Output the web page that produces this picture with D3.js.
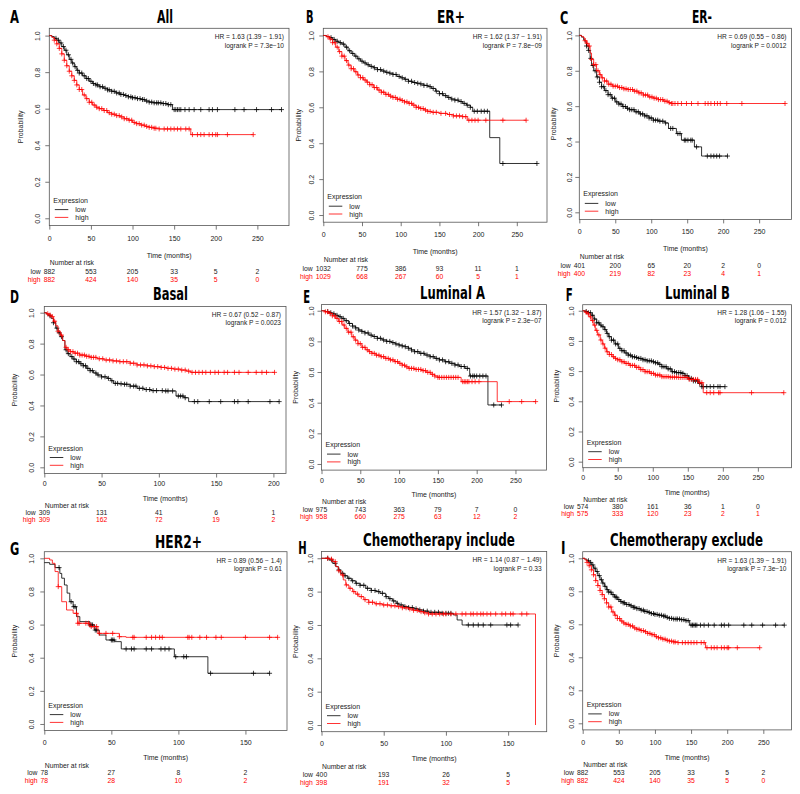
<!DOCTYPE html>
<html><head><meta charset="utf-8">
<script src="https://cdn.jsdelivr.net/npm/d3@7"></script>
<style>body{margin:0;background:#fff}text{font-family:"Liberation Sans",Arial,sans-serif}</style>
</head><body><svg id="c" width="800" height="794"></svg>
<script>
// ---------- DATA ----------
const panelIds = ["A","B","C","D","E","F","G","H","I"];
const panelTitles = ["All","ER+","ER-","Basal","Luminal A","Luminal B","HER2+","Chemotherapy include","Chemotherapy exclude"];
const hrLabels = ["HR = 1.63 (1.39 \u2212 1.91)","HR = 1.62 (1.37 \u2212 1.91)","HR = 0.69 (0.55 \u2212 0.86)","HR = 0.67 (0.52 \u2212 0.87)","HR = 1.57 (1.32 \u2212 1.87)","HR = 1.28 (1.06 \u2212 1.55)","HR = 0.89 (0.56 \u2212 1.4)","HR = 1.14 (0.87 \u2212 1.49)","HR = 1.63 (1.39 \u2212 1.91)"];
const pLabels = ["logrank P = 7.3e\u221210","logrank P = 7.8e\u221209","logrank P = 0.0012","logrank P = 0.0023","logrank P = 2.3e\u221207","logrank P = 0.012","logrank P = 0.61","logrank P = 0.33","logrank P = 7.3e\u221210"];
const xTicks250 = [0,50,100,150,200,250];
const xTicks200 = [0,50,100,150,200];
const xTicks150 = [0,50,100,150];
const yTicks = [0.0,0.2,0.4,0.6,0.8,1.0];
const xLimits = [288,289,295,211,290,298,181,181,289];
const legendLabels = ["low","high"];

const riskLowA = [882,553,205,33,5,2],  riskHighA = [882,424,140,35,5,0];
const riskLowB = [1032,775,386,93,11,1], riskHighB = [1029,668,267,60,5,1];
const riskLowC = [401,200,65,20,2,0],   riskHighC = [400,219,82,23,4,1];
const riskLowD = [309,131,41,6,1],      riskHighD = [309,162,72,19,2];
const riskLowE = [975,743,363,79,7,0],  riskHighE = [958,660,275,63,12,2];
const riskLowF = [574,380,161,36,1,0],  riskHighF = [575,333,120,23,2,1];
const riskLowG = [78,27,8,2],           riskHighG = [78,28,10,2];
const riskLowH = [400,193,26,5],        riskHighH = [398,191,32,5];

// survival steps [time, probability]
const survLowA = [[0,1],[3,0.995],[6,0.985],[9,0.975],[12,0.96],[15,0.94],[18,0.92],[21,0.895],[24,0.87],[27,0.85],[30,0.83],[33,0.81],[36,0.795],[40,0.78],[44,0.765],[48,0.75],[52,0.738],[56,0.73],[60,0.72],[65,0.712],[70,0.703],[75,0.695],[80,0.686],[85,0.678],[90,0.672],[95,0.665],[100,0.66],[105,0.655],[110,0.65],[115,0.642],[120,0.636],[125,0.632],[135,0.628],[142,0.622],[148,0.595]];
const survHighA = [[0,1],[3,0.99],[6,0.975],[9,0.955],[12,0.93],[15,0.9],[18,0.865],[21,0.835],[24,0.805],[27,0.78],[30,0.755],[33,0.73],[36,0.705],[40,0.675],[44,0.655],[48,0.635],[52,0.62],[56,0.608],[60,0.6],[65,0.59],[70,0.578],[75,0.57],[80,0.562],[85,0.555],[90,0.545],[95,0.537],[100,0.525],[105,0.518],[110,0.51],[115,0.503],[120,0.498],[126,0.493],[132,0.489],[170,0.458]];
const survLowB = [[0,1],[4,0.995],[8,0.988],[12,0.978],[16,0.968],[20,0.96],[24,0.952],[28,0.935],[32,0.915],[36,0.9],[40,0.885],[44,0.87],[48,0.857],[52,0.847],[56,0.837],[60,0.828],[65,0.82],[70,0.81],[75,0.802],[80,0.795],[85,0.79],[90,0.783],[95,0.772],[100,0.764],[105,0.756],[110,0.745],[115,0.738],[120,0.734],[125,0.73],[130,0.722],[135,0.715],[140,0.705],[145,0.69],[150,0.676],[155,0.665],[160,0.655],[165,0.646],[170,0.64],[175,0.632],[180,0.622],[185,0.612],[190,0.6],[193,0.578],[215,0.431],[228,0.287]];
const survHighB = [[0,1],[4,0.993],[8,0.98],[12,0.96],[16,0.935],[20,0.91],[24,0.885],[28,0.86],[32,0.835],[36,0.815],[40,0.798],[44,0.78],[48,0.765],[52,0.752],[56,0.74],[60,0.726],[65,0.71],[70,0.696],[75,0.684],[80,0.672],[85,0.662],[90,0.655],[95,0.645],[100,0.638],[105,0.63],[110,0.622],[115,0.612],[120,0.6],[125,0.593],[130,0.585],[135,0.577],[140,0.572],[150,0.566],[160,0.56],[168,0.552],[180,0.548],[186,0.528]];
const survLowC = [[0,1],[3,0.99],[6,0.975],[8,0.962],[10,0.94],[12.5,0.915],[15,0.87],[17,0.83],[20,0.8],[24,0.765],[28,0.735],[31,0.71],[35,0.688],[40,0.665],[45,0.645],[50,0.624],[55,0.612],[60,0.598],[65,0.588],[70,0.58],[77,0.568],[84,0.556],[91,0.545],[97,0.533],[103,0.521],[110,0.515],[119,0.505],[124,0.474],[135,0.445],[142,0.408],[160,0.37],[170,0.318]];
const survHighC = [[0,1],[3,0.994],[6,0.985],[8,0.97],[10,0.955],[12.5,0.94],[15,0.9],[17,0.865],[20,0.835],[24,0.8],[28,0.778],[31,0.76],[35,0.742],[40,0.724],[46,0.713],[54,0.705],[62,0.698],[68,0.694],[75,0.685],[82,0.675],[89,0.663],[96,0.652],[103,0.645],[110,0.637],[117,0.628],[124,0.62],[128,0.615]];
const survLowD = [[0,1],[2,0.99],[4,0.98],[6,0.963],[8,0.935],[10,0.9],[12,0.87],[14,0.845],[16,0.82],[18,0.76],[20,0.735],[22.5,0.716],[25,0.7],[28,0.683],[31,0.67],[34,0.657],[37,0.64],[40,0.625],[43,0.61],[46,0.597],[50,0.585],[55,0.575],[58,0.56],[60.5,0.543],[65,0.54],[69,0.537],[75,0.525],[81,0.511],[87,0.503],[93,0.496],[104,0.494],[115,0.461],[122,0.45],[126,0.425]];
const survHighD = [[0,1],[2,0.993],[4,0.985],[6,0.974],[8,0.945],[10,0.915],[12,0.88],[14,0.855],[16,0.82],[18,0.776],[20,0.76],[22.5,0.748],[26,0.738],[31,0.726],[36,0.718],[40,0.711],[46,0.702],[52,0.694],[60,0.688],[66,0.683],[75,0.673],[81,0.662],[90,0.656],[96,0.651],[102,0.646],[107,0.64],[113,0.635],[119,0.629],[124,0.622],[128,0.614]];
const survLowE = [[0,1],[5,0.995],[9,0.987],[13,0.98],[18,0.97],[22,0.961],[26,0.95],[30,0.935],[35,0.917],[40,0.9],[44,0.888],[48,0.874],[52,0.865],[56,0.855],[61,0.841],[66,0.832],[72,0.82],[78,0.809],[84,0.8],[90,0.792],[95,0.783],[100,0.776],[104,0.77],[108,0.765],[112,0.755],[116,0.744],[120,0.733],[126,0.722],[133,0.711],[140,0.7],[146,0.689],[152,0.679],[159,0.667],[165,0.657],[172,0.646],[178,0.636],[185,0.624],[191,0.574],[214.5,0.385]];
const survHighE = [[0,1],[4,0.993],[9,0.983],[14,0.967],[18,0.95],[22,0.93],[26.5,0.907],[30,0.885],[34,0.86],[39,0.83],[43,0.808],[47,0.785],[52,0.761],[57,0.745],[61,0.733],[65,0.722],[70,0.71],[76,0.7],[82,0.689],[88,0.679],[94,0.668],[99,0.657],[104,0.645],[108,0.634],[112,0.624],[120,0.617],[129,0.609],[135,0.598],[141,0.585],[146,0.574],[150,0.565],[180,0.537],[226.5,0.407]];
const survLowF = [[0,1],[4,0.995],[8,0.987],[12,0.97],[16,0.945],[20,0.92],[24,0.905],[27,0.894],[31,0.875],[34,0.85],[37,0.828],[41,0.805],[46,0.78],[51,0.751],[55,0.735],[60,0.72],[65,0.706],[70,0.695],[75,0.69],[80,0.684],[86,0.675],[92,0.668],[98.6,0.662],[103,0.655],[108,0.645],[113,0.629],[120,0.615],[127,0.596],[133,0.59],[141,0.585],[146,0.57],[151,0.552],[158,0.535],[165,0.519],[170,0.497]];
const survHighF = [[0,1],[3,0.99],[6,0.98],[9,0.96],[12,0.935],[15,0.905],[18,0.87],[21,0.84],[25,0.806],[28,0.78],[31,0.752],[34,0.728],[38,0.71],[42,0.695],[46,0.684],[50,0.675],[55,0.662],[60,0.651],[67,0.638],[75,0.625],[82,0.61],[89,0.596],[96,0.585],[103,0.574],[113,0.563],[125,0.56],[137,0.558],[151,0.545],[165,0.523],[172,0.457]];
const survLowG = [[0,0.974],[4,0.964],[8,0.944],[11.6,0.909],[13,0.88],[15,0.839],[17,0.79],[19,0.738],[21.5,0.708],[24,0.648],[26.5,0.618],[34,0.598],[37.6,0.567],[41,0.537],[46,0.507],[52.5,0.497],[57.4,0.453],[97,0.406],[122,0.306]];
const survHighG = [[0,1],[4,0.99],[6,0.97],[8,0.92],[10.4,0.829],[13,0.738],[16.6,0.688],[21.5,0.668],[25,0.608],[34,0.588],[40,0.547],[56,0.527],[61,0.523]];
const survLowH = [[0,1],[6,0.99],[9,0.97],[11.5,0.95],[13.5,0.93],[15.5,0.91],[18,0.895],[21,0.88],[24,0.865],[27.5,0.85],[31,0.838],[35.6,0.82],[40,0.807],[43.6,0.8],[47,0.79],[51.6,0.77],[54,0.758],[57,0.744],[60,0.73],[62,0.72],[66,0.71],[70,0.704],[74,0.697],[78,0.69],[82,0.683],[86,0.676],[97,0.67],[106,0.66],[109,0.63],[113,0.6]];
const survHighH = [[0,1],[6,0.995],[9,0.98],[11.5,0.95],[13.5,0.925],[15.5,0.9],[17.5,0.87],[19.5,0.84],[22,0.82],[25,0.8],[27.5,0.785],[30,0.77],[34,0.752],[38,0.736],[43,0.727],[49,0.72],[55,0.715],[60,0.71],[65,0.703],[70,0.696],[74,0.688],[78,0.68],[82,0.673],[86,0.666],[172,0]];

// censoring times (months)
const censLowA = [8,11,14,17,20,23,26,28,31,34,36,39,42,45,47,50,53,56,58,61,64,67,70,72,75,78,81,84,86,89,92,95,98,100,103,106,109,112,114,117,120,123,126,129,131,134,137,140,143,146,150,152,154,156,158,163,168,174,182,192,196,202,223,234,249,267,279];
const censHighA = [6,9,12,15,18,21,24,27,30,33,36,39,42,45,48,51,54,57,60,63,66,69,72,75,78,81,84,87,90,93,96,99,102,105,108,111,114,117,120,123,126,128,132,138,142,146,150,154,158,164,168,172,178,182,186,192,196,200,202,214,245];
const censLowB = [10,14,18,22,26,30,34,38,42,46,50,54,58,62,66,70,74,78,82,86,90,94,98,102,106,110,114,118,122,126,130,134,138,142,146,150,154,158,162,166,170,174,178,182,186,190,195,199,204,208,212,232,276];
const censHighB = [6,9,12,15,18,21,24,27,30,33,36,39,42,45,48,51,54,57,60,63,66,69,72,75,78,81,84,87,90,93,96,99,102,105,108,111,114,117,120,123,126,129,132,135,138,142,146,152,158,163,168,172,176,180,184,188,192,196,200,210,232,262];
const censLowC = [10,13,16,19,22,25,28,31,34,37,40,43,46,49,52,55,58,61,64,67,70,73,76,79,82,85,88,91,94,97,100,103,106,109,112,116,120,127,130,137,140,146,148,151,155,157,163,178,183,187,191,195,206];
const censHighC = [8,11,14,17,20,23,26,29,32,35,38,41,44,47,50,53,56,59,62,65,68,71,74,77,80,83,86,89,92,95,98,101,104,107,110,113,116,119,122,125,128,130,133,137,142,149,156,165,175,179,183,188,192,196,205,226,286];
const censLowD = [5,8,11,13,15,19,21,24,26,28,30,32,34,36,38,40,42,45,47,50,53,56,59,62,64,67,70,72,75,78,80,83,86,89,92,95,98,103,106,108,112,117,119,121,123,131,134,144,154,166,169,178,197,205];
const censHighD = [3,5,7,9,12,15,19,21,23,25,27,29,31,33,35,37,39,41,43,45,48,51,54,57,60,63,66,69,72,75,78,81,84,87,90,93,96,99,102,105,108,111,114,117,120,123,126,129,132,135,138,141,145,149,152,157,160,166,170,178,185,190,194,201];
const censLowE = [8,12,16,20,24,28,32,36,40,44,48,52,56,60,64,68,72,76,80,84,88,92,96,100,104,108,112,116,120,124,128,132,136,140,144,148,152,156,160,164,168,172,176,180,184,188,192,195,197,200,204,208,212,222,232];
const censHighE = [5,8,11,14,17,20,23,26,29,32,35,38,41,44,47,50,53,56,59,62,65,68,71,74,77,80,83,86,89,92,95,98,101,104,107,110,113,116,119,122,125,128,131,134,137,140,143,146,150,152,155,158,161,164,167,170,173,176,182,184,186,188,190,194,198,203,242,258,276];
const censLowF = [5,8,11,14,17,20,23,26,29,32,35,38,41,44,47,50,53,56,59,62,65,68,71,74,77,80,83,86,89,92,95,98,101,104,107,110,113,116,119,122,125,128,131,134,137,140,143,146,149,152,155,158,161,164,167,170,172,177,182,187,193,196,203];
const censHighF = [5,8,11,14,17,20,23,26,29,32,35,38,41,44,47,50,53,56,59,62,65,68,71,74,77,80,83,86,89,92,95,98,101,104,107,110,113,116,119,122,125,128,131,134,137,140,143,146,149,152,155,158,161,164,167,170,177,182,187,194,196,241,287];
const censLowG = [11,20,22,23,34,35,36,38,39,50,51,52,61,65,67,76,80,87,90,93,98,104,106,124,156,168];
const censHighG = [10.4,24,25,26,31,33,35,37,39,41,46,51,56,66,67,76,80,83,86,88,107,108,110,116,121,128,132,150,168,174];
const censLowH = [5,8,11,14,17,19,22,25,28,31,34,37,40,43,46,49,52,55,58,61,64,67,70,73,76,79,82,85,88,91,94,97,100,102,104,118,122,126,130,136,149,152,158];
const censHighH = [5,8,11,14,17,20,23,26,29,32,35,38,41,44,47,50,53,56,59,62,65,68,71,74,77,80,83,86,89,92,95,98,100,104,108,113,116,120,122,125,128,130,133,136,140,145,148,152,154,161,165];

// ---------- LAYOUT ----------
const boxes = [
  {L:49.3, R:289,   T:28.3,  B:225.6, row:0, ytl:-12.3, ylab:-29.3},
  {L:323.3,R:547,   T:28.3,  B:222.2, row:0, ytl:-11.6, ylab:-25},
  {L:579.3,R:791.5, T:28.3,  B:219.4, row:0, ytl:-10,   ylab:-26},
  {L:44.3, R:286,   T:306.5, B:473.5, row:1, ytl:-12.6, ylab:-30.3},
  {L:321.5,R:546.5, T:304.6, B:470.1, row:1, ytl:-10,   ylab:-26},
  {L:582.7,R:791.5, T:304.7, B:467.7, row:1, ytl:-11,   ylab:-26},
  {L:44.3, R:287,   T:551.7, B:730.6, row:2, ytl:-12.6, ylab:-30.3},
  {L:321.5,R:546.7, T:551.6, B:731.7, row:2, ytl:-11,   ylab:-26},
  {L:582.7,R:791.5, T:551.7, B:729.9, row:2, ytl:-11,   ylab:-26}
];
const rowOff = [
  {tick:15,   time:32,   nar:39.6, low:48.5, high:56.7, hr1:11,   hr2:20},
  {tick:12.8, time:27,   nar:34.3, low:41.4, high:48.7, hr1:10.5, hr2:18},
  {tick:14.7, time:29.6, nar:37,   low:44.8, high:52.8, hr1:10.8, hr2:19.1}
];
const titlePos = [
  {x:157,w:16,y:23},{x:437,w:28,y:23},{x:692,w:20,y:23},
  {x:153,w:35,y:299.5},{x:420,w:65,y:299},{x:665,w:65,y:298.5},
  {x:155,w:47,y:547.7},{x:363,w:152,y:546},{x:610,w:153,y:546}
];
const letterPos = [
  {x:10,w:9,y:23},{x:306,w:7.5,y:23},{x:560,w:8.3,y:24},
  {x:10,w:9,y:303.3},{x:303.3,w:6.8,y:302.7},{x:565.7,w:7,y:300.7},
  {x:10,w:9.3,y:555},{x:298.3,w:8.4,y:554.3},{x:561,w:4.5,y:554.3}
];

const panels = [
  {ticks:xTicks250, rl:riskLowA, rh:riskHighA, sl:survLowA, sh:survHighA, cl:censLowA, ch:censHighA},
  {ticks:xTicks250, rl:riskLowB, rh:riskHighB, sl:survLowB, sh:survHighB, cl:censLowB, ch:censHighB},
  {ticks:xTicks250, rl:riskLowC, rh:riskHighC, sl:survLowC, sh:survHighC, cl:censLowC, ch:censHighC},
  {ticks:xTicks200, rl:riskLowD, rh:riskHighD, sl:survLowD, sh:survHighD, cl:censLowD, ch:censHighD},
  {ticks:xTicks250, rl:riskLowE, rh:riskHighE, sl:survLowE, sh:survHighE, cl:censLowE, ch:censHighE},
  {ticks:xTicks250, rl:riskLowF, rh:riskHighF, sl:survLowF, sh:survHighF, cl:censLowF, ch:censHighF},
  {ticks:xTicks150, rl:riskLowG, rh:riskHighG, sl:survLowG, sh:survHighG, cl:censLowG, ch:censHighG},
  {ticks:xTicks150, rl:riskLowH, rh:riskHighH, sl:survLowH, sh:survHighH, cl:censLowH, ch:censHighH},
  {ticks:xTicks250, rl:riskLowA, rh:riskHighA, sl:survLowA, sh:survHighA, cl:censLowA, ch:censHighA}
];

const RED = "#ff0000", BLACK = "#000000", AX = "#555";
const svg = d3.select("#c");
const BOLD_FONT = "'Liberation Sans Narrow','DejaVu Sans Condensed','DejaVu Sans',sans-serif";

// fitted bold text: scale horizontally so the rendered box has the target width
function fittedText(g, pos, str, size) {
  const t = g.append("text").attr("x", 0).attr("y", 0)
    .style("font-family", BOLD_FONT).style("font-weight","bold").style("font-size", size + "px").text(str);
  const nat = t.node().getComputedTextLength();
  t.attr("transform", `translate(${pos.x},${pos.y}) scale(${pos.w / nat},1)`);
}

panels.forEach((p, i) => {
  const b = boxes[i], ro = rowOff[b.row];
  const g = svg.append("g");
  const x = d3.scaleLinear().domain([0, xLimits[i]]).range([b.L, b.R]);
  const y = d3.scaleLinear().domain([-0.04, 1.04]).range([b.B, b.T]);

  fittedText(g, titlePos[i], panelTitles[i], 18);
  fittedText(g, letterPos[i], panelIds[i], 17);

  // box
  g.append("rect").attr("x", b.L).attr("y", b.T).attr("width", b.R - b.L).attr("height", b.B - b.T)
    .attr("fill","none").attr("stroke", AX).attr("stroke-width", 0.8);

  // x axis
  const xa = g.append("g").attr("transform", `translate(0,${b.B})`)
    .call(d3.axisBottom(x).tickValues(p.ticks).tickSize(4).tickSizeOuter(0).tickFormat(d3.format("d")));
  xa.select(".domain").remove();
  xa.selectAll("line").attr("stroke", AX).attr("stroke-width", 0.8);
  xa.selectAll("text").attr("y", ro.tick).attr("dy", null).style("font-size","7px").style("font-family","'Liberation Sans',Arial,sans-serif").attr("fill","#222");

  // y axis
  const ya = g.append("g").attr("transform", `translate(${b.L},0)`)
    .call(d3.axisLeft(y).tickValues(yTicks).tickSize(4).tickSizeOuter(0).tickFormat(d3.format(".1f")));
  ya.select(".domain").remove();
  ya.selectAll("line").attr("stroke", AX).attr("stroke-width", 0.8);
  ya.selectAll("text").attr("x", null).attr("dy", null).attr("text-anchor","middle")
    .attr("transform", `translate(${b.ytl + 2.5},0) rotate(-90)`)
    .style("font-size","7px").style("font-family","'Liberation Sans',Arial,sans-serif").attr("fill","#222");

  // axis titles
  g.append("text").attr("transform", `translate(${b.L + b.ylab + 2.5},${(b.T + b.B)/2}) rotate(-90)`)
    .attr("text-anchor","middle").style("font-size","7px").attr("fill","#222").text("Probability");
  g.append("text").attr("x", (b.L + b.R)/2).attr("y", b.B + ro.time).attr("text-anchor","middle")
    .style("font-size","7px").attr("fill","#222").text("Time (months)");

  // HR
  g.append("text").attr("x", b.R - 5).attr("y", b.T + ro.hr1).attr("text-anchor","end").style("font-size","6.6px").attr("fill","#222").text(hrLabels[i]);
  g.append("text").attr("x", b.R - 5).attr("y", b.T + ro.hr2).attr("text-anchor","end").style("font-size","6.6px").attr("fill","#222").text(pLabels[i]);

  // curves
  const line = d3.line().x(d => x(d[0])).y(d => y(d[1])).curve(d3.curveStepAfter);
  const series = [{s:p.sl, c:p.cl, col:BLACK}, {s:p.sh, c:p.ch, col:RED}];
  series.forEach(sr => {
    const endT = Math.max(d3.max(sr.c), sr.s[sr.s.length-1][0]);
    const pts = sr.s.concat([[endT, sr.s[sr.s.length-1][1]]]);
    g.append("path").attr("d", line(pts)).attr("fill","none").attr("stroke", sr.col).attr("stroke-width", 0.8);
    const bis = d3.bisector(d => d[0]).right;
    const sv = t => sr.s[Math.max(0, bis(sr.s, t) - 1)][1];
    g.append("g").selectAll("path").data(sr.c).join("path")
      .attr("d", t => { const cx = x(t), cy = y(sv(t)); return `M${cx-2.5},${cy}H${cx+2.5}M${cx},${cy-2.5}V${cy+2.5}`; })
      .attr("stroke", sr.col).attr("stroke-width", 0.75).attr("fill","none");
  });

  // legend
  g.append("text").attr("x", b.L + 4).attr("y", b.B - 23).style("font-size","7px").attr("fill","#222").text("Expression");
  [[BLACK, 16], [RED, 8.2]].forEach((lg, k) => {
    const ly = b.B - lg[1];
    g.append("line").attr("x1", b.L + 5.5).attr("x2", b.L + 19).attr("y1", ly).attr("y2", ly).attr("stroke", lg[0]).attr("stroke-width", 0.8);
    g.append("text").attr("x", b.L + 26).attr("y", ly + 2.5).style("font-size","7px").attr("fill","#222").text(legendLabels[k]);
  });

  // number at risk
  g.append("text").attr("x", b.L + 0.5).attr("y", b.B + ro.nar).style("font-size","6.8px").attr("fill","#222").text("Number at risk");
  [[p.rl, ro.low, "#222", "low"], [p.rh, ro.high, RED, "high"]].forEach(rr => {
    let firstW = 0;
    rr[0].forEach((v, k) => {
      const t = g.append("text").attr("x", x(p.ticks[k])).attr("y", b.B + rr[1]).attr("text-anchor","middle")
        .style("font-size","6.8px").attr("fill", rr[2]).text(v);
      if (k === 0) firstW = t.node().getComputedTextLength();
    });
    g.append("text").attr("x", x(p.ticks[0]) - firstW/2 - 3).attr("y", b.B + rr[1]).attr("text-anchor","end")
      .style("font-size","6.8px").attr("fill", rr[2]).text(rr[3]);
  });
});
</script></body></html>
